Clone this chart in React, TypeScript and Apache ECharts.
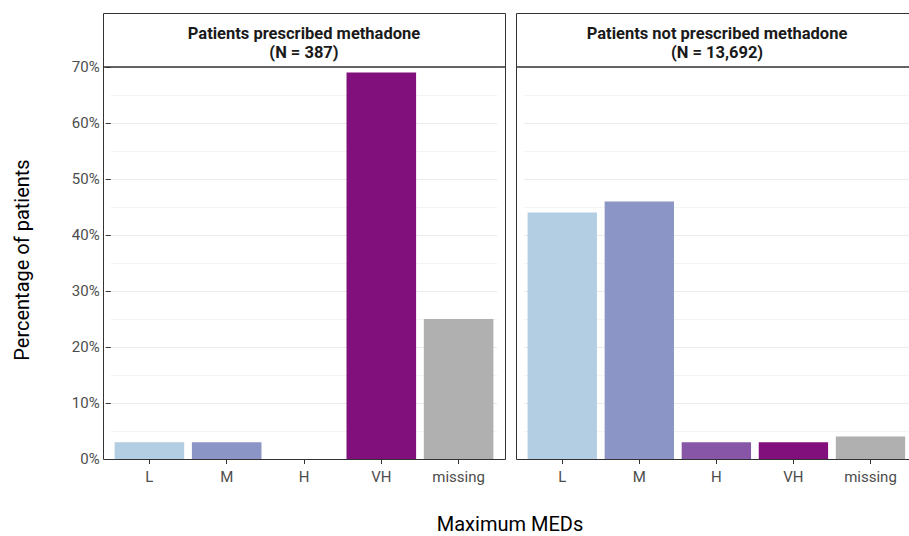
import React, { useEffect, useRef } from "react";
import * as echarts from "echarts";

const categories = ["L", "M", "H", "VH", "missing"];
const methadoneValues = [3, 3, 0, 69, 25];
const nonMethadoneValues = [44, 46, 3, 3, 4];
const barColors = ["#b3cde3", "#8c96c6", "#8856a7", "#810f7c", "#b0b0b0"];
const panelTitleLines = [
  ["Patients prescribed methadone", "(N = 387)"],
  ["Patients not prescribed methadone", "(N = 13,692)"],
];
const yMax = 70;
const yInterval = 10;

const FONT = "Roboto, 'Liberation Sans Narrow', sans-serif";

export default function App() {
  const ref = useRef<HTMLDivElement>(null);
  useEffect(() => {
    if (!ref.current) return;
    const chart = echarts.init(ref.current, null, { renderer: "svg" });

    const panelLefts = [103, 516];
    const panelWidth = 402;
    const stripTop = 13;
    const plotTop = 67;
    const plotBottom = 459;
    const unit = panelWidth / 5.2;
    const gridWidth = unit * 5;

    const mk = (vals: number[]) =>
      vals.map((v, i) => ({ value: v, itemStyle: { color: barColors[i] } }));

    const grids = panelLefts.map((pl) => ({
      left: pl + 0.1 * unit,
      top: plotTop,
      width: gridWidth,
      height: plotBottom - plotTop,
      containLabel: false,
    }));

    const xAxes = [0, 1].map((gi) => ({
      type: "category",
      gridIndex: gi,
      data: categories,
      axisLine: { show: false },
      axisTick: {
        show: true,
        alignWithLabel: true,
        length: 5,
        lineStyle: { color: "#333333", width: 1 },
      },
      axisLabel: {
        color: "#4d4d4d",
        fontFamily: FONT,
        fontSize: 15,
        margin: 10,
      },
      splitLine: { show: false },
    }));

    const yAxes = [0, 1].map((gi) => ({
      type: "value",
      gridIndex: gi,
      min: 0,
      max: yMax,
      interval: yInterval,
      axisLine: { show: false },
      axisTick: {
        show: gi === 0,
        length: 5,
        lineStyle: { color: "#333333", width: 1 },
      },
      axisLabel: {
        show: gi === 0,
        color: "#4d4d4d",
        fontFamily: FONT,
        fontSize: 15,
        margin: 11,
        formatter: "{value}%",
      },
      splitLine: { show: true, lineStyle: { color: "#ebebeb", width: 1 } },
      minorTick: { show: false, splitNumber: 2 },
      minorSplitLine: { show: true, lineStyle: { color: "#f4f4f4", width: 1 } },
    }));

    const graphics: any[] = [];
    panelLefts.forEach((pl, i) => {
      graphics.push({
        type: "rect",
        z: 100,
        shape: { x: pl + 0.5, y: stripTop + 0.5, width: panelWidth, height: plotBottom - stripTop },
        style: { fill: "none", stroke: "#333333", lineWidth: 1 },
      });
      graphics.push({
        type: "line",
        z: 100,
        shape: { x1: pl, y1: plotTop, x2: pl + panelWidth, y2: plotTop },
        style: { stroke: "#333333", lineWidth: 1.4 },
      });
      panelTitleLines[i].forEach((line, li) => {
        graphics.push({
          type: "text",
          z: 100,
          x: pl + panelWidth / 2,
          y: li === 0 ? 33 : 52.5,
          style: {
            text: line,
            fill: "#1a1a1a",
            font: `bold 16.5px ${FONT}`,
            lineHeight: 17,
            align: "center",
            verticalAlign: "middle",
          },
        });
      });
    });
    graphics.push({
      type: "text",
      x: 22,
      y: 260,
      rotation: Math.PI / 2,
      style: {
        text: "Percentage of patients",
        fill: "#000000",
        font: `20px ${FONT}`,
        align: "center",
        verticalAlign: "middle",
      },
    });
    graphics.push({
      type: "text",
      x: 510,
      y: 524,
      style: {
        text: "Maximum MEDs",
        fill: "#000000",
        font: `20px ${FONT}`,
        align: "center",
        verticalAlign: "middle",
      },
    });

    chart.setOption({
      animation: false,
      backgroundColor: "#ffffff",
      grid: grids,
      xAxis: xAxes,
      yAxis: yAxes,
      series: [
        {
          type: "bar",
          xAxisIndex: 0,
          yAxisIndex: 0,
          data: mk(methadoneValues),
          barCategoryGap: "10%",
        },
        {
          type: "bar",
          xAxisIndex: 1,
          yAxisIndex: 1,
          data: mk(nonMethadoneValues),
          barCategoryGap: "10%",
        },
      ],
      graphic: graphics,
    });
    return () => chart.dispose();
  }, []);
  return (
    <div
      ref={ref}
      style={{ position: "absolute", left: 0, top: 0, width: 909, height: 536 }}
    />
  );
}
